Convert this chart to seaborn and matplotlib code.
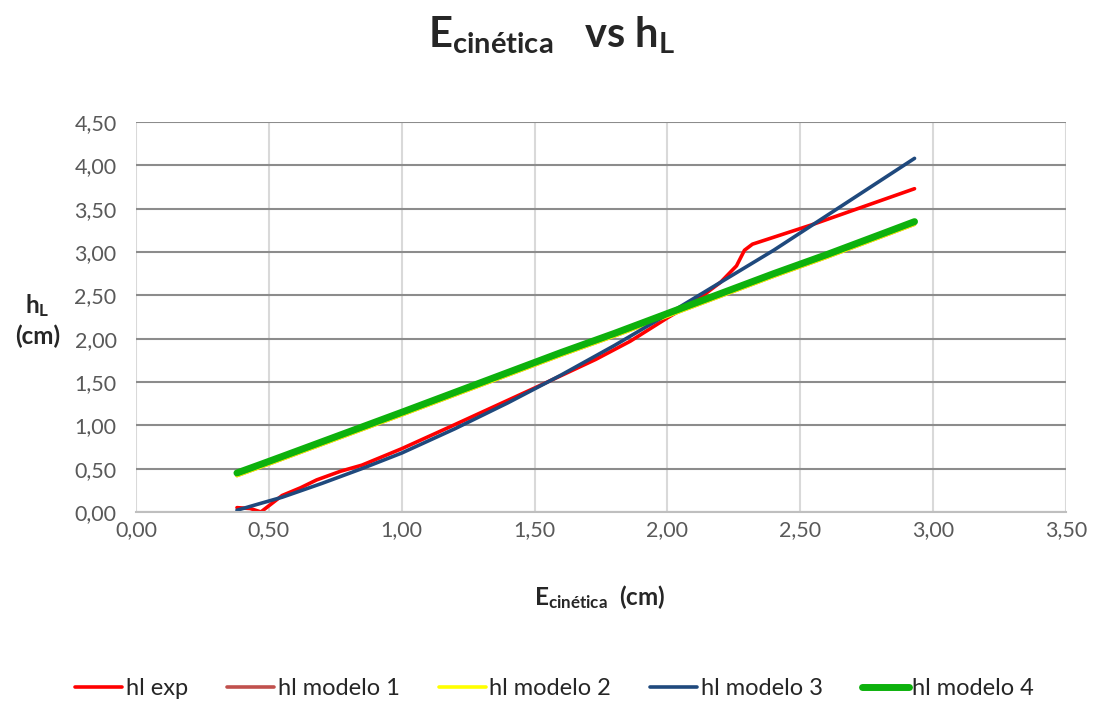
import numpy as np
import pandas as pd
import matplotlib
matplotlib.use("Agg")
import matplotlib.pyplot as plt
from matplotlib.ticker import FuncFormatter, MultipleLocator
import seaborn as sns

e_exp = [0.38, 0.43, 0.47, 0.55, 0.62, 0.68, 0.77, 0.85, 1.00, 1.18, 1.50, 1.73,
         1.86, 2.00, 2.10, 2.20, 2.26, 2.29, 2.32, 2.54, 2.93]
hl_exp = [0.05, 0.04, 0.00, 0.19, 0.28, 0.37, 0.47, 0.54, 0.73, 0.98, 1.43, 1.76,
          1.97, 2.24, 2.42, 2.65, 2.84, 3.02, 3.09, 3.31, 3.73]

# Model curves
e_mod = [0.38, 0.47, 0.55, 0.70, 0.85, 1.00, 1.20, 1.40, 1.60, 1.80, 2.00, 2.20,
         2.40, 2.60, 2.80, 2.93]
hl_mod1 = [0.42, 0.52, 0.61, 0.78, 0.95, 1.12, 1.35, 1.58, 1.81, 2.03, 2.26, 2.49,
           2.72, 2.94, 3.17, 3.32]
hl_mod2 = [0.42, 0.52, 0.61, 0.78, 0.95, 1.12, 1.35, 1.58, 1.81, 2.03, 2.26, 2.49,
           2.72, 2.94, 3.17, 3.32]
hl_mod3 = [0.02, 0.10, 0.17, 0.33, 0.50, 0.68, 0.96, 1.26, 1.58, 1.92, 2.28, 2.65,
           3.02, 3.42, 3.82, 4.08]
hl_mod4 = [0.45, 0.55, 0.64, 0.81, 0.98, 1.15, 1.38, 1.61, 1.84, 2.06, 2.29, 2.52,
           2.75, 2.97, 3.20, 3.35]

sns.set_theme(style="white")
plt.rcParams['font.family'] = ['Lato', 'DejaVu Sans']
plt.rcParams['mathtext.fontset'] = 'custom'
plt.rcParams['mathtext.rm'] = 'Lato'
plt.rcParams['mathtext.bf'] = 'Lato:bold'
plt.rcParams['mathtext.it'] = 'Lato:italic'

fig = plt.figure(figsize=(10.94, 7.05), dpi=100)
ax = fig.add_axes([0.1243, 0.2738, 0.8501, 0.5532])

series = [
    (e_exp, hl_exp, 'hl exp', '#FF0000', 2.6),
    (e_mod, hl_mod1, 'hl modelo 1', '#C0504D', 2.6),
    (e_mod, hl_mod2, 'hl modelo 2', '#FFFF00', 2.6),
    (e_mod, hl_mod3, 'hl modelo 3', '#1F497D', 2.6),
    (e_mod, hl_mod4, 'hl modelo 4', '#0DB10D', 5.0),
]
for x, y, name, col, lw in series:
    sns.lineplot(x=x, y=y, ax=ax, color=col, linewidth=lw, label=name,
                 sort=False, estimator=None, solid_capstyle='round')

ax.set_xlim(0, 3.5)
ax.set_ylim(0, 4.5)
ax.xaxis.set_major_locator(MultipleLocator(0.5))
ax.yaxis.set_major_locator(MultipleLocator(0.5))
fmt = FuncFormatter(lambda v, p: f"{v:.2f}".replace('.', ','))
ax.xaxis.set_major_formatter(fmt)
ax.yaxis.set_major_formatter(fmt)
ax.tick_params(axis='both', length=0, labelsize=15.5, labelcolor='#595959')
ax.tick_params(axis='x', pad=6)
ax.tick_params(axis='y', pad=14)

ax.set_axisbelow(True)
ax.yaxis.grid(True, color='#8C8C8C', linewidth=1.5)
ax.xaxis.grid(True, color='#D9D9D9', linewidth=1.5)
for s in ['top', 'right', 'left']:
    ax.spines[s].set_visible(False)
ax.spines['bottom'].set_color('#BFBFBF')
ax.spines['bottom'].set_linewidth(1.5)

ax.set_xlabel(r'E$_{\mathbf{cinética}}$  (cm)', fontsize=17.5, fontweight='bold')
ax.xaxis.set_label_coords(0.499, -0.182)
ax.set_ylabel('h$_{\\mathbf{L}}$\n(cm)', fontsize=17.5, fontweight='bold',
              rotation=0, va='center', ha='center', linespacing=1.3)
ax.yaxis.set_label_coords(-0.106, 0.492)

fig.text(0.504, 0.95, r'E$_{\mathbf{cinética}}$   vs h$_{\mathbf{L}}$',
         fontsize=30, fontweight='bold', ha='center', va='center')

ax.legend(loc='center', bbox_to_anchor=(0.507, 0.023), bbox_transform=fig.transFigure,
          ncol=5, frameon=False, fontsize=17, handlelength=2.0, handletextpad=0.15,
          columnspacing=1.65)

fig.savefig('out.png', dpi=100)
